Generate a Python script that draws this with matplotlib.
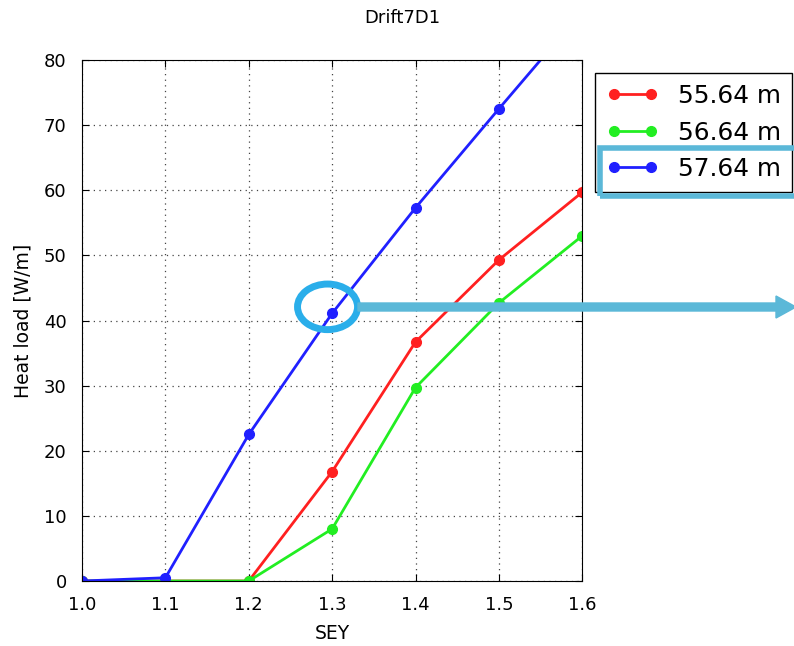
import matplotlib
matplotlib.use("Agg")
import matplotlib.pyplot as plt
from matplotlib.patches import Ellipse, Rectangle, FancyArrow

sey = [1.0, 1.1, 1.2, 1.3, 1.4, 1.5, 1.6]
heat_55 = [0.0, 0.0, 0.0, 16.8, 36.7, 49.3, 59.7]
heat_56 = [0.0, 0.0, 0.0, 8.0, 29.7, 42.7, 53.0]
heat_57 = [0.0, 0.5, 22.5, 41.1, 57.3, 72.5, 87.5]
labels = ["55.64 m", "56.64 m", "57.64 m"]

fig = plt.figure(figsize=(7.94, 6.46), dpi=100)
ax = fig.add_axes([0.1033, 0.1006, 0.63, 0.8065])

for y, c, lab in zip([heat_55, heat_56, heat_57], ["#ff2020", "#22ee22", "#2020ff"], labels):
    ax.plot(sey, y, "-o", color=c, lw=2, ms=7, label=lab)

ax.set_xlim(1.0, 1.6)
ax.set_ylim(0, 80)
ax.set_xticks(sey)
ax.set_xticklabels(["%.1f" % s for s in sey])
ax.grid(True, linestyle=(0, (1, 3.5)), color="#444444", lw=0.9)
ax.tick_params(direction="in", labelsize=13, length=5, pad=11, top=True, right=True)
ax.set_xlabel("SEY", fontsize=13.5, labelpad=7)
ax.set_ylabel("Heat load [W/m]", fontsize=13.5, labelpad=8)
fig.text(0.507, 0.972, "Drift7D1", ha="center", va="center", fontsize=13)

leg = ax.legend(loc="upper left", bbox_to_anchor=(595 / 794, 1 - 73 / 646),
                bbox_transform=fig.transFigure, fontsize=17.9, fancybox=False,
                edgecolor="black", framealpha=1, numpoints=2, handlelength=2.1,
                borderaxespad=0, borderpad=0.45, handletextpad=0.78, labelspacing=0.5)
leg.get_frame().set_linewidth(1.0)

# highlight annotations
cyan = "#5bb8d8"
fig.patches.append(Rectangle((600 / 794, 1 - 196 / 646), 200 / 794, 48 / 646,
                             transform=fig.transFigure, fill=False, ec=cyan, lw=4, zorder=10))
ax.add_patch(Ellipse((1.2945, 42.1), 0.072, 7.0, fill=False, ec="#2aaeea", lw=5, zorder=10,
                     clip_on=False))
fig.patches.append(FancyArrow(358 / 794, 1 - 307 / 646, 438 / 794, 0, width=8 / 646,
                              head_width=22 / 646, head_length=20 / 794,
                              length_includes_head=True, transform=fig.transFigure,
                              color=cyan, zorder=10))

fig.savefig("out.png", dpi=100)
